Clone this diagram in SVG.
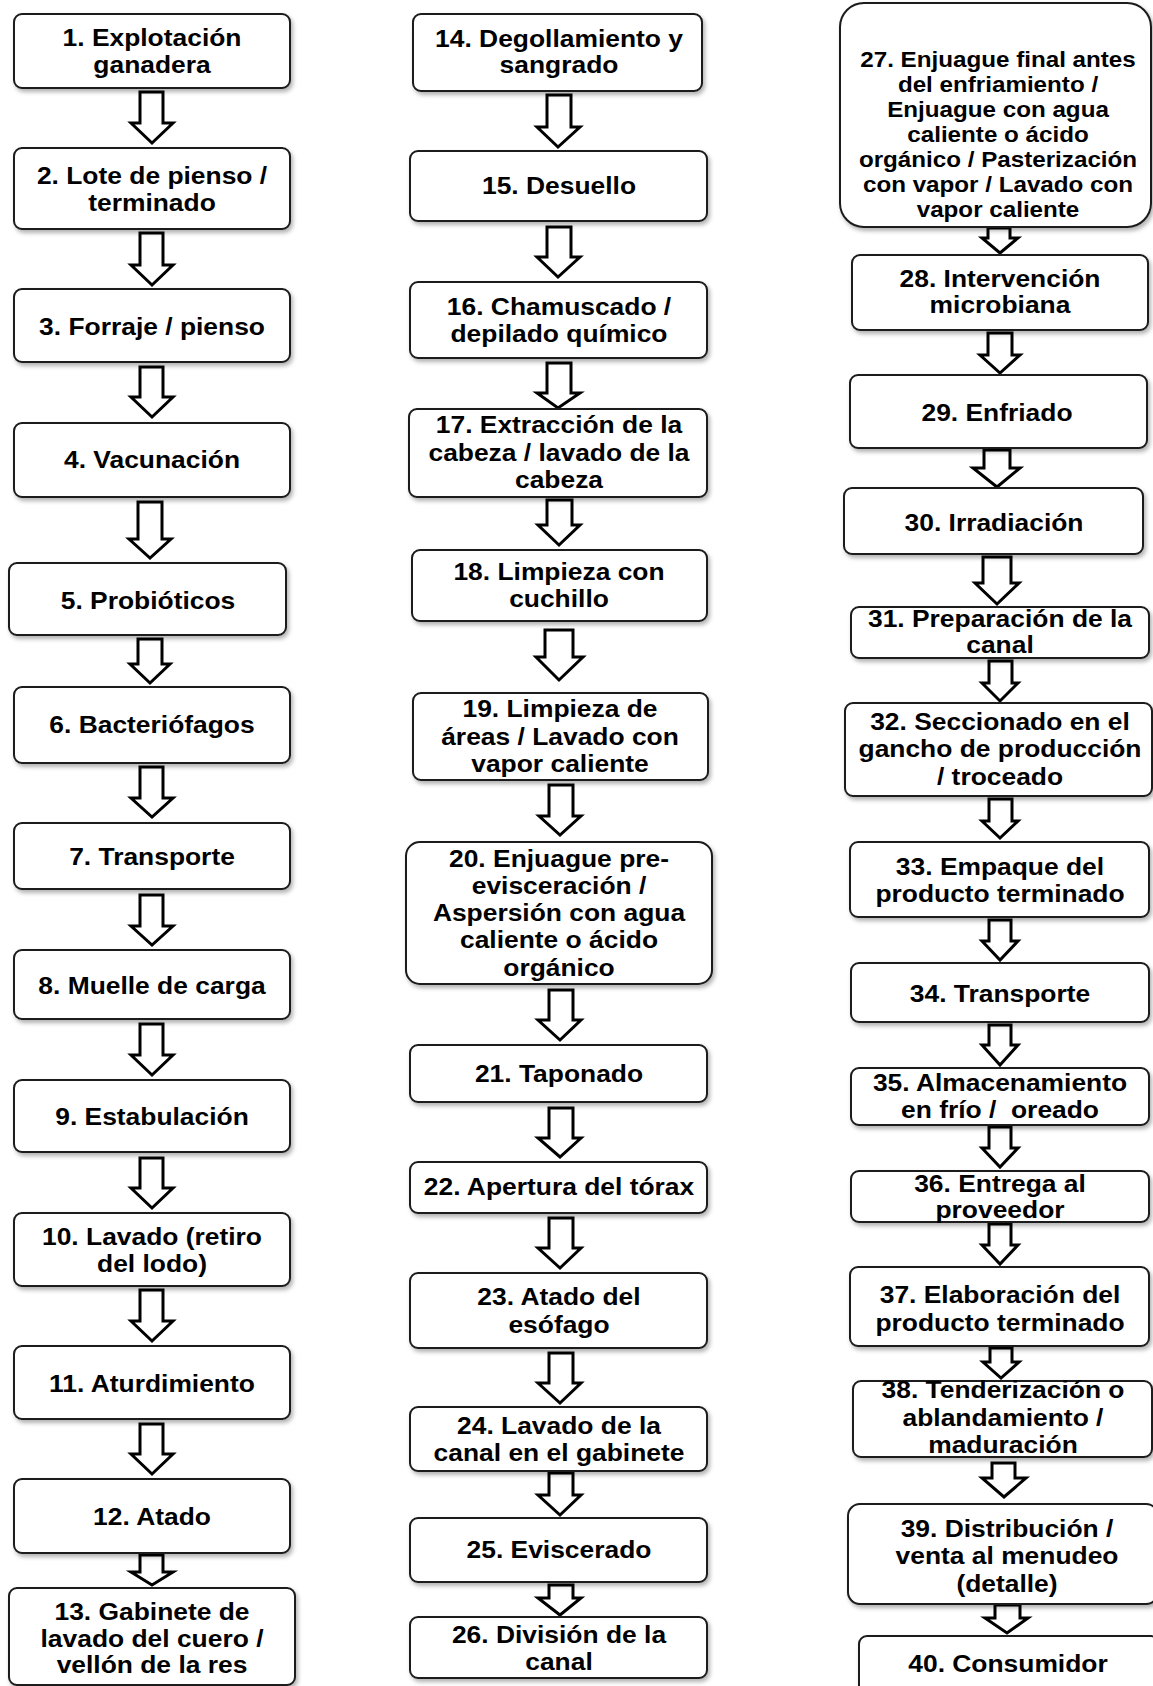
<svg xmlns="http://www.w3.org/2000/svg" width="1153" height="1686" viewBox="0 0 1153 1686">
<style>
.b{fill:#fff;stroke:#1a1a1a;stroke-width:2;filter:url(#sh)}
.t{font-family:"Liberation Sans",Arial,sans-serif;font-weight:bold;font-size:24px;fill:#000;text-anchor:middle}
.s{font-size:22px}
.a{fill:#fff;stroke:#000;stroke-width:3;stroke-linejoin:miter}
</style>
<defs>
<filter id="sh" x="-10%" y="-10%" width="130%" height="140%">
<feDropShadow dx="2" dy="3" stdDeviation="2" flood-color="#000" flood-opacity="0.3"/>
</filter>
</defs>
<rect width="1153" height="1686" fill="#fff"/>

<g id="connectors">
<polygon class="a" points="140,92 163,92 163,123 173,123 152,143 131,123 140,123"/>
<polygon class="a" points="140,233 163,233 163,265 173,265 152,285 131,265 140,265"/>
<polygon class="a" points="140,367 163,367 163,397 173,397 152,417 131,397 140,397"/>
<polygon class="a" points="138,502 162,502 162,539 171,539 150,558 129,539 138,539"/>
<polygon class="a" points="138,639 162,639 162,664 170,664 150,683 130,664 138,664"/>
<polygon class="a" points="140,767 163,767 163,798 173,798 152,817 131,798 140,798"/>
<polygon class="a" points="140,895 163,895 163,926 173,926 152,945 131,926 140,926"/>
<polygon class="a" points="140,1024 163,1024 163,1055 173,1055 152,1075 131,1055 140,1055"/>
<polygon class="a" points="140,1158 163,1158 163,1188 173,1188 152,1208 131,1188 140,1188"/>
<polygon class="a" points="140,1290 163,1290 163,1321 173,1321 152,1341 131,1321 140,1321"/>
<polygon class="a" points="140,1424 163,1424 163,1454 173,1454 152,1474 131,1454 140,1454"/>
<polygon class="a" points="140,1555 163,1555 163,1572 173,1572 152,1585 131,1572 140,1572"/>

<polygon class="a" points="547,95 571,95 571,127 580,127 558,147 537,127 547,127"/>
<polygon class="a" points="547,227 571,227 571,257 580,257 558,277 537,257 547,257"/>
<polygon class="a" points="547,363 571,363 571,393 580,393 558,408 537,393 547,393"/>
<polygon class="a" points="547,500 572,500 572,525 580,525 559,545 538,525 547,525"/>
<polygon class="a" points="545,630 573,630 573,657 583,657 559,680 536,657 545,657"/>
<polygon class="a" points="549,785 573,785 573,816 581,816 560,835 539,816 549,816"/>
<polygon class="a" points="549,990 573,990 573,1020 581,1020 560,1040 538,1020 549,1020"/>
<polygon class="a" points="549,1108 573,1108 573,1138 581,1138 560,1157 538,1138 549,1138"/>
<polygon class="a" points="549,1218 573,1218 573,1248 581,1248 560,1268 538,1248 549,1248"/>
<polygon class="a" points="549,1353 573,1353 573,1383 581,1383 560,1403 538,1383 549,1383"/>
<polygon class="a" points="549,1473 573,1473 573,1495 581,1495 560,1515 538,1495 549,1495"/>
<polygon class="a" points="549,1585 573,1585 573,1598 581,1598 560,1615 538,1598 549,1598"/>

<polygon class="a" points="988,228 1010,228 1010,238 1018,238 1000,253 982,238 988,238"/>
<polygon class="a" points="988,333 1012,333 1012,355 1020,355 1000,373 980,355 988,355"/>
<polygon class="a" points="984,450 1010,450 1010,468 1020,468 997,487 973,468 984,468"/>
<polygon class="a" points="983,557 1011,557 1011,583 1019,583 997,604 975,583 983,583"/>
<polygon class="a" points="989,661 1012,661 1012,683 1018,683 1000,701 982,683 989,683"/>
<polygon class="a" points="989,799 1012,799 1012,821 1018,821 1000,838 982,821 989,821"/>
<polygon class="a" points="989,920 1011,920 1011,941 1018,941 1000,960 982,941 989,941"/>
<polygon class="a" points="989,1025 1011,1025 1011,1045 1018,1045 1000,1065 982,1045 989,1045"/>
<polygon class="a" points="989,1127 1011,1127 1011,1148 1018,1148 1000,1167 982,1148 989,1148"/>
<polygon class="a" points="989,1224 1011,1224 1011,1245 1018,1245 1000,1264 982,1245 989,1245"/>
<polygon class="a" points="990,1348 1012,1348 1012,1362 1019,1362 1001,1378 983,1362 990,1362"/>
<polygon class="a" points="992,1463 1015,1463 1015,1478 1026,1478 1004,1497 982,1478 992,1478"/>
<polygon class="a" points="995,1605 1020,1605 1020,1618 1028,1618 1007,1633 985,1618 995,1618"/>
</g>

<g id="n1"><rect class="b" x="14" y="14" width="276" height="74" rx="8"/><text class="t" transform="translate(152 0) scale(1.1 1)"><tspan x="0" y="46">1. Explotación</tspan><tspan x="0" y="73">ganadera</tspan></text></g>
<g id="n2"><rect class="b" x="14" y="148" width="276" height="81" rx="8"/><text class="t" transform="translate(152 0) scale(1.1 1)"><tspan x="0" y="184">2. Lote de pienso /</tspan><tspan x="0" y="211">terminado</tspan></text></g>
<g id="n3"><rect class="b" x="14" y="289" width="276" height="73" rx="8"/><text class="t" transform="translate(152 0) scale(1.1 1)"><tspan x="0" y="335">3. Forraje / pienso</tspan></text></g>
<g id="n4"><rect class="b" x="14" y="423" width="276" height="74" rx="8"/><text class="t" transform="translate(152 0) scale(1.1 1)"><tspan x="0" y="468">4. Vacunación</tspan></text></g>
<g id="n5"><rect class="b" x="9" y="563" width="277" height="72" rx="8"/><text class="t" transform="translate(148 0) scale(1.1 1)"><tspan x="0" y="609">5. Probióticos</tspan></text></g>
<g id="n6"><rect class="b" x="14" y="687" width="276" height="76" rx="8"/><text class="t" transform="translate(152 0) scale(1.1 1)"><tspan x="0" y="733">6. Bacteriófagos</tspan></text></g>
<g id="n7"><rect class="b" x="14" y="823" width="276" height="66" rx="8"/><text class="t" transform="translate(152 0) scale(1.1 1)"><tspan x="0" y="865">7. Transporte</tspan></text></g>
<g id="n8"><rect class="b" x="14" y="950" width="276" height="69" rx="8"/><text class="t" transform="translate(152 0) scale(1.1 1)"><tspan x="0" y="994">8. Muelle de carga</tspan></text></g>
<g id="n9"><rect class="b" x="14" y="1080" width="276" height="72" rx="8"/><text class="t" transform="translate(152 0) scale(1.1 1)"><tspan x="0" y="1125">9. Estabulación</tspan></text></g>
<g id="n10"><rect class="b" x="14" y="1213" width="276" height="73" rx="8"/><text class="t" transform="translate(152 0) scale(1.1 1)"><tspan x="0" y="1245">10. Lavado (retiro</tspan><tspan x="0" y="1272">del lodo)</tspan></text></g>
<g id="n11"><rect class="b" x="14" y="1346" width="276" height="73" rx="8"/><text class="t" transform="translate(152 0) scale(1.1 1)"><tspan x="0" y="1392">11. Aturdimiento</tspan></text></g>
<g id="n12"><rect class="b" x="14" y="1479" width="276" height="74" rx="8"/><text class="t" transform="translate(152 0) scale(1.1 1)"><tspan x="0" y="1525">12. Atado</tspan></text></g>
<g id="n13"><rect class="b" x="9" y="1588" width="286" height="97" rx="8"/><text class="t" transform="translate(152 0) scale(1.1 1)"><tspan x="0" y="1620">13. Gabinete de</tspan><tspan x="0" y="1647">lavado del cuero /</tspan><tspan x="0" y="1673">vellón de la res</tspan></text></g>

<g id="n14"><rect class="b" x="413" y="14" width="289" height="77" rx="8"/><text class="t" transform="translate(559 0) scale(1.1 1)"><tspan x="0" y="47">14. Degollamiento y</tspan><tspan x="0" y="73">sangrado</tspan></text></g>
<g id="n15"><rect class="b" x="410" y="151" width="297" height="70" rx="8"/><text class="t" transform="translate(559 0) scale(1.1 1)"><tspan x="0" y="194">15. Desuello</tspan></text></g>
<g id="n16"><rect class="b" x="410" y="282" width="297" height="76" rx="8"/><text class="t" transform="translate(559 0) scale(1.1 1)"><tspan x="0" y="315">16. Chamuscado /</tspan><tspan x="0" y="342">depilado químico</tspan></text></g>
<g id="n17"><rect class="b" x="409" y="409" width="298" height="88" rx="8"/><text class="t" transform="translate(559 0) scale(1.1 1)"><tspan x="0" y="433">17. Extracción de la</tspan><tspan x="0" y="461">cabeza / lavado de la</tspan><tspan x="0" y="488">cabeza</tspan></text></g>
<g id="n18"><rect class="b" x="412" y="550" width="295" height="71" rx="8"/><text class="t" transform="translate(559 0) scale(1.1 1)"><tspan x="0" y="580">18. Limpieza con</tspan><tspan x="0" y="607">cuchillo</tspan></text></g>
<g id="n19"><rect class="b" x="413" y="693" width="295" height="87" rx="8"/><text class="t" transform="translate(560 0) scale(1.1 1)"><tspan x="0" y="717">19. Limpieza de</tspan><tspan x="0" y="745">áreas / Lavado con</tspan><tspan x="0" y="772">vapor caliente</tspan></text></g>
<g id="n20"><rect class="b" x="406" y="842" width="306" height="142" rx="14"/><text class="t" transform="translate(559 0) scale(1.1 1)"><tspan x="0" y="867">20. Enjuague pre-</tspan><tspan x="0" y="894">evisceración /</tspan><tspan x="0" y="921">Aspersión con agua</tspan><tspan x="0" y="948">caliente o ácido</tspan><tspan x="0" y="976">orgánico</tspan></text></g>
<g id="n21"><rect class="b" x="410" y="1045" width="297" height="57" rx="8"/><text class="t" transform="translate(559 0) scale(1.1 1)"><tspan x="0" y="1082">21. Taponado</tspan></text></g>
<g id="n22"><rect class="b" x="410" y="1162" width="297" height="51" rx="8"/><text class="t" transform="translate(559 0) scale(1.1 1)"><tspan x="0" y="1195">22. Apertura del tórax</tspan></text></g>
<g id="n23"><rect class="b" x="410" y="1273" width="297" height="75" rx="8"/><text class="t" transform="translate(559 0) scale(1.1 1)"><tspan x="0" y="1305">23. Atado del</tspan><tspan x="0" y="1333">esófago</tspan></text></g>
<g id="n24"><rect class="b" x="410" y="1407" width="297" height="64" rx="8"/><text class="t" transform="translate(559 0) scale(1.1 1)"><tspan x="0" y="1434">24. Lavado de la</tspan><tspan x="0" y="1461">canal en el gabinete</tspan></text></g>
<g id="n25"><rect class="b" x="410" y="1518" width="297" height="64" rx="8"/><text class="t" transform="translate(559 0) scale(1.1 1)"><tspan x="0" y="1558">25. Eviscerado</tspan></text></g>
<g id="n26"><rect class="b" x="410" y="1617" width="297" height="61" rx="8"/><text class="t" transform="translate(559 0) scale(1.1 1)"><tspan x="0" y="1643">26. División de la</tspan><tspan x="0" y="1670">canal</tspan></text></g>

<g id="n27"><rect class="b" x="840" y="3" width="311" height="224" rx="24"/><text class="t s" transform="translate(998 0) scale(1.1 1)"><tspan x="0" y="67">27. Enjuague final antes</tspan><tspan x="0" y="92">del enfriamiento /</tspan><tspan x="0" y="117">Enjuague con agua</tspan><tspan x="0" y="142">caliente o ácido</tspan><tspan x="0" y="167">orgánico / Pasterización</tspan><tspan x="0" y="192">con vapor / Lavado con</tspan><tspan x="0" y="217">vapor caliente</tspan></text></g>
<g id="n28"><rect class="b" x="852" y="255" width="296" height="75" rx="8"/><text class="t" transform="translate(1000 0) scale(1.1 1)"><tspan x="0" y="287">28. Intervención</tspan><tspan x="0" y="313">microbiana</tspan></text></g>
<g id="n29"><rect class="b" x="850" y="375" width="297" height="73" rx="8"/><text class="t" transform="translate(997 0) scale(1.1 1)"><tspan x="0" y="421">29. Enfriado</tspan></text></g>
<g id="n30"><rect class="b" x="844" y="488" width="299" height="66" rx="8"/><text class="t" transform="translate(994 0) scale(1.1 1)"><tspan x="0" y="531">30. Irradiación</tspan></text></g>
<g id="n31"><rect class="b" x="851" y="607" width="298" height="51" rx="8"/><text class="t" transform="translate(1000 0) scale(1.1 1)"><tspan x="0" y="627">31. Preparación de la</tspan><tspan x="0" y="653">canal</tspan></text></g>
<g id="n32"><rect class="b" x="845" y="703" width="307" height="93" rx="8"/><text class="t" transform="translate(1000 0) scale(1.1 1)"><tspan x="0" y="730">32. Seccionado en el</tspan><tspan x="0" y="757">gancho de producción</tspan><tspan x="0" y="785">/ troceado</tspan></text></g>
<g id="n33"><rect class="b" x="850" y="842" width="299" height="75" rx="8"/><text class="t" transform="translate(1000 0) scale(1.1 1)"><tspan x="0" y="875">33. Empaque del</tspan><tspan x="0" y="902">producto terminado</tspan></text></g>
<g id="n34"><rect class="b" x="851" y="963" width="298" height="59" rx="8"/><text class="t" transform="translate(1000 0) scale(1.1 1)"><tspan x="0" y="1002">34. Transporte</tspan></text></g>
<g id="n35"><rect class="b" x="851" y="1068" width="298" height="57" rx="8"/><text class="t" transform="translate(1000 0) scale(1.1 1)"><tspan x="0" y="1091">35. Almacenamiento</tspan><tspan x="0" y="1118">en frío /&#160; oreado</tspan></text></g>
<g id="n36"><rect class="b" x="851" y="1171" width="298" height="51" rx="8"/><text class="t" transform="translate(1000 0) scale(1.1 1)"><tspan x="0" y="1192">36. Entrega al</tspan><tspan x="0" y="1218">proveedor</tspan></text></g>
<g id="n37"><rect class="b" x="850" y="1267" width="299" height="79" rx="8"/><text class="t" transform="translate(1000 0) scale(1.1 1)"><tspan x="0" y="1303">37. Elaboración del</tspan><tspan x="0" y="1331">producto terminado</tspan></text></g>
<g id="n38"><rect class="b" x="853" y="1381" width="299" height="76" rx="8"/><text class="t" transform="translate(1003 0) scale(1.1 1)"><tspan x="0" y="1398">38. Tenderización o</tspan><tspan x="0" y="1426">ablandamiento /</tspan><tspan x="0" y="1453">maduración</tspan></text></g>
<g id="n39"><rect class="b" x="848" y="1504" width="310" height="100" rx="12"/><text class="t" transform="translate(1007 0) scale(1.1 1)"><tspan x="0" y="1537">39. Distribución /</tspan><tspan x="0" y="1564">venta al menudeo</tspan><tspan x="0" y="1592">(detalle)</tspan></text></g>
<g id="n40"><rect class="b" x="859" y="1636" width="300" height="64" rx="8"/><text class="t" transform="translate(1008 0) scale(1.1 1)"><tspan x="0" y="1672">40. Consumidor</tspan></text></g>
</svg>
